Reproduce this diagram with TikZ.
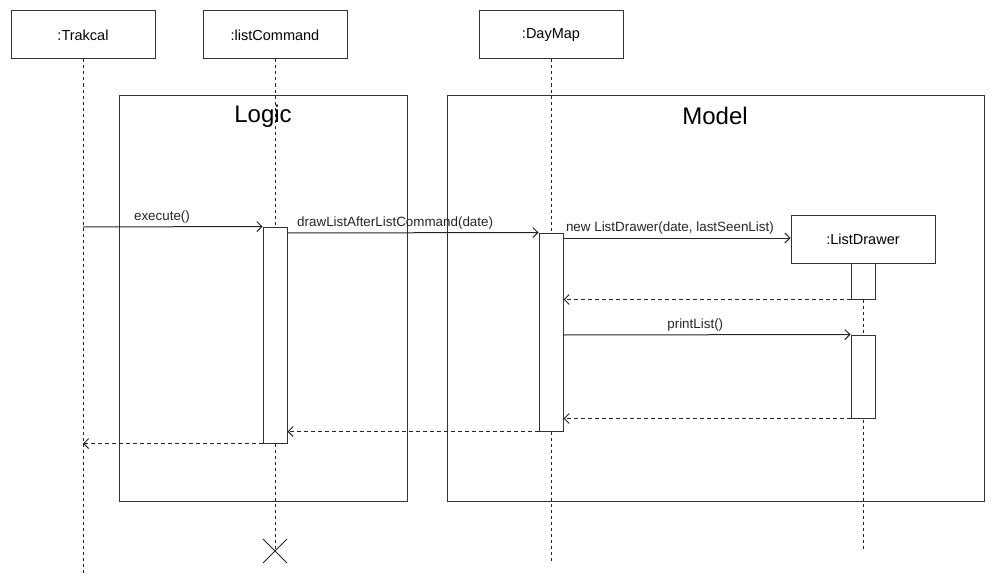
\documentclass[tikz,border=0pt]{standalone}
\usepackage{fontspec}
\setmainfont{Liberation Sans}
\usetikzlibrary{arrows.meta}
\begin{document}
\begin{tikzpicture}[x=1pt,y=-1pt,
  lifebox/.style={draw=black!80,line width=1pt,fill=white,minimum width=144pt,minimum height=48pt,inner sep=0pt,font=\fontsize{14.5}{17}\selectfont},
  frame/.style={draw=black!80,line width=1pt},
  act/.style={draw=black!80,line width=1pt,fill=white,minimum width=24pt,inner sep=0pt},
  lifeline/.style={line width=1pt,dash pattern=on 3pt off 3pt,black!85},
  msg/.style={line width=1pt,black!85,-{Straight Barb[length=5pt,width=10pt]}},
  ret/.style={line width=1pt,black!85,dash pattern=on 4pt off 3pt,-{Straight Barb[length=5pt,width=10pt]}},
  lbl/.style={font=\fontsize{13.4}{16}\selectfont,above=1pt,inner sep=2pt},
  title/.style={font=\fontsize{24}{28}\selectfont,inner sep=0pt}]
\useasboundingbox (0,0) rectangle (1004,578);
% frames
\draw[frame] (119,95) rectangle (407,501);
\draw[frame] (447,95) rectangle (984,501);
\node[title] (logict) at (263,116) {Logic};
\node[title] (modelt) at (715,116) {Model};
% lifeline heads
\node[lifebox] (trak) at (83,35) {:Trakcal};
\node[lifebox] (lc) at (275,35) {:listCommand};
\node[lifebox] (dm) at (551,35) {:DayMap};
\node[lifebox] (ld) at (863,239) {:ListDrawer};
% lifeline ends
\coordinate (trakE) at (83,575);
\coordinate (lcE) at (275,551);
\coordinate (dmE) at (551,563);
\coordinate (ldE) at (863,550);
\draw[lifeline] (trak.south) -- (trakE);
\draw[lifeline] (lc.south) -- (lcE);
\draw[lifeline] (dm.south) -- (dmE);
\draw[lifeline] (ld.south) -- (ldE);
% activations
\node[act,minimum height=216pt] (aL) at (275,335) {};
\node[act,minimum height=198pt] (aD) at (551,332) {};
\node[act,minimum height=36pt] (aX1) at (863,281) {};
\node[act,minimum height=83pt] (aX2) at (863,376.5) {};
% destroy mark
\draw[line width=1pt,black!85] ([shift={(-12,-12)}]lcE) -- ([shift={(12,12)}]lcE)
  ([shift={(-12,12)}]lcE) -- ([shift={(12,-12)}]lcE);
% messages
\coordinate (m1s) at (83,227);
\draw[msg] (m1s) -- (aL.north west) node[lbl,pos=0.44] {execute()};
\coordinate (m2s) at (287,233);
\draw[msg] (m2s) -- (aD.north west) node[lbl,pos=0.43] {drawListAfterListCommand(date)};
\coordinate (m3s) at (563,238);
\draw[msg] (m3s) -- (ld.west |- m3s) node[lbl,pos=0.47] {new ListDrawer(date, lastSeenList)};
\draw[ret] (aX1.south west) -- (aD.east |- aX1.south);
\coordinate (m4s) at (563,335);
\draw[msg] (m4s) -- (aX2.north west) node[lbl,pos=0.46] {printList()};
\draw[ret] (aX2.south west) -- (aD.east |- aX2.south);
\draw[ret] (aD.south west) -- (aL.east |- aD.south);
\draw[ret] (aL.south west) -- (trak.south |- aL.south);
\end{tikzpicture}
\end{document}
